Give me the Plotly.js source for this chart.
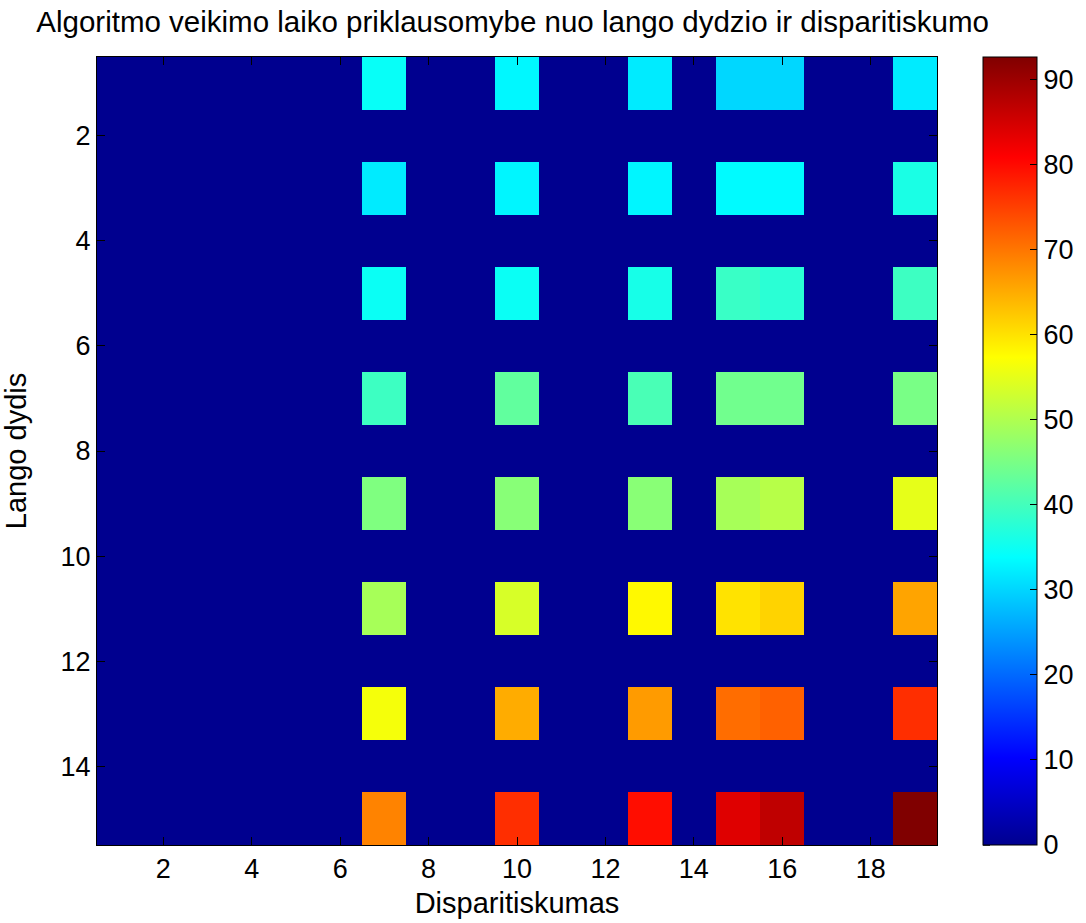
<!DOCTYPE html>
<html>
<head>
<meta charset="utf-8">
<script src="https://cdn.plot.ly/plotly-3.0.1.min.js"></script>
<style>html,body{margin:0;padding:0;background:#fff;}#chart{width:1086px;height:923px;}</style>
</head>
<body>
<div id="chart"></div>
<script>
// Disparity values along x (1..19), window sizes along y (1..15)
var disparities = [1,2,3,4,5,6,7,8,9,10,11,12,13,14,15,16,17,18,19];
var windowSizes = [1,2,3,4,5,6,7,8,9,10,11,12,13,14,15];
// Columns (disparity) holding non-zero run times
var activeCols = [7, 10, 13, 15, 16, 19];
// Rows (window size) holding non-zero run times
var activeRows = [1, 3, 5, 7, 9, 11, 13, 15];
// Values for each active row, in activeCols order
var row1  = [34.5, 33.2, 32.0, 30.1, 30.1, 32.0];
var row3  = [32.0, 33.0, 33.0, 33.5, 33.5, 36.2];
var row5  = [34.8, 34.8, 36.0, 39.1, 37.7, 39.5];
var row7  = [39.5, 42.8, 40.6, 44.3, 44.3, 45.0];
var row9  = [45.6, 46.4, 46.5, 49.3, 50.7, 55.1];
var row11 = [49.3, 53.7, 57.9, 60.0, 61.4, 65.8];
var row13 = [56.5, 65.0, 66.6, 70.9, 72.0, 76.7];
var row15 = [68.8, 76.7, 79.7, 83.9, 86.9, 92.7];
var rowValues = [row1, row3, row5, row7, row9, row11, row13, row15];
var xTicks = [2,4,6,8,10,12,14,16,18];
var yTicks = [2,4,6,8,10,12,14];
var cbTicks = [0,10,20,30,40,50,60,70,80,90];

var z = windowSizes.map(function(){ return disparities.map(function(){ return 0; }); });
activeRows.forEach(function(r, i){
  activeCols.forEach(function(c, j){
    z[windowSizes.indexOf(r)][disparities.indexOf(c)] = rowValues[i][j];
  });
});
var zMax = 92.7;

var jet = [
  [0.0, 'rgb(0,0,143)'],
  [0.111, 'rgb(0,0,255)'],
  [0.365, 'rgb(0,255,255)'],
  [0.619, 'rgb(255,255,0)'],
  [0.873, 'rgb(255,0,0)'],
  [1.0, 'rgb(128,0,0)']
];

var font = 'Liberation Sans, Arial, Helvetica, sans-serif';
var cbX = 1.0548;

var trace = {
  type: 'heatmap',
  x: disparities,
  y: windowSizes,
  z: z,
  colorscale: jet,
  zmin: 0,
  zmax: zMax,
  zsmooth: false,
  hoverongaps: false,
  colorbar: {
    x: cbX, xanchor: 'left', xref: 'paper',
    y: 0.5, yanchor: 'middle', len: 1, lenmode: 'fraction',
    thickness: 54, thicknessmode: 'pixels',
    outlinewidth: 1, outlinecolor: '#000',
    tickvals: cbTicks, ticktext: cbTicks.map(String),
    ticks: 'inside', ticklen: 7, tickcolor: '#000',
    tickfont: {family: font, size: 27, color: '#000'},
    xpad: 0, ypad: 0
  }
};

// left-side inside ticks of the colorbar (MATLAB draws ticks on both edges)
var cbShapes = cbTicks.map(function(v){
  return {type: 'line', xref: 'paper', yref: 'paper',
          x0: cbX, x1: cbX + 7/840, y0: v / zMax, y1: v / zMax,
          line: {color: '#000', width: 1.5}};
});

var layout = {
  width: 1086, height: 923,
  margin: {l: 97, r: 149, t: 57, b: 78, autoexpand: false},
  paper_bgcolor: '#fff', plot_bgcolor: '#00008f',
  title: {text: 'Algoritmo veikimo laiko priklausomybe nuo lango dydzio ir disparitiskumo',
          font: {family: font, size: 29.5, color: '#000'}, x: 0.472, xanchor: 'center', y: 0.976, yanchor: 'middle'},
  xaxis: {
    range: [0.5, 19.5], tickvals: xTicks, ticktext: xTicks.map(String),
    ticks: 'inside', ticklen: 8, tickcolor: '#000', showline: true, linecolor: '#000', linewidth: 1,
    mirror: 'ticks', showgrid: false, zeroline: false,
    tickfont: {family: font, size: 27, color: '#000'},
    title: {text: 'Disparitiskumas', font: {family: font, size: 29, color: '#000'}, standoff: 9}
  },
  yaxis: {
    range: [15.5, 0.5], tickvals: yTicks, ticktext: yTicks.map(String),
    ticks: 'inside', ticklen: 8, tickcolor: '#000', showline: true, linecolor: '#000', linewidth: 1,
    mirror: 'ticks', showgrid: false, zeroline: false,
    tickfont: {family: font, size: 27, color: '#000'},
    title: {text: 'Lango dydis', font: {family: font, size: 29, color: '#000'}, standoff: 26}
  },
  shapes: cbShapes,
  showlegend: false
};

Plotly.newPlot('chart', [trace], layout, {displayModeBar: false, staticPlot: true});
</script>
</body>
</html>
